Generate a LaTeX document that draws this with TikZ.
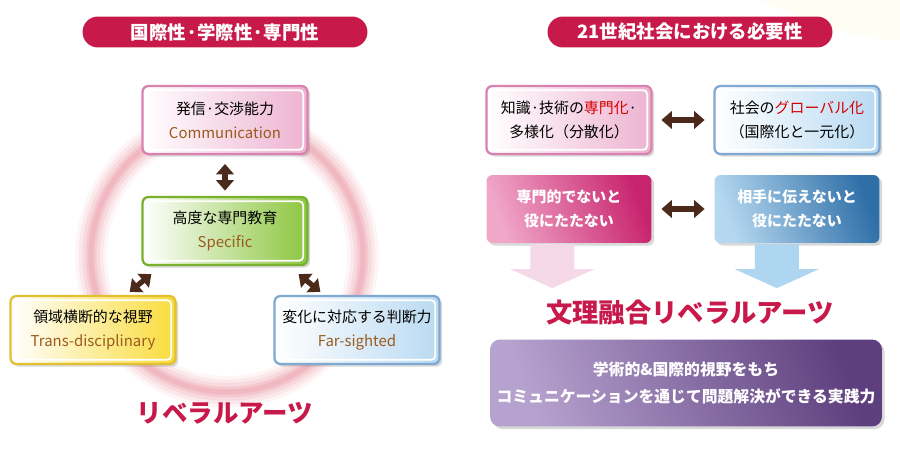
\documentclass[tikz,border=0pt]{standalone}
\usepackage{fontspec}
\setmainfont{Noto Sans CJK JP}
\usetikzlibrary{arrows.meta,shadows,calc}
\definecolor{crimson}{HTML}{C8194B}
\definecolor{engbrown}{HTML}{9A5B1E}
\definecolor{arrowbrown}{HTML}{4B2A1C}
\definecolor{ringpink}{HTML}{EE9DAB}
\definecolor{pinkR}{HTML}{EDB3D1}\definecolor{pinkB}{HTML}{D982AF}
\definecolor{greenR}{HTML}{8CC63F}\definecolor{greenB}{HTML}{79B12F}
\definecolor{yellowR}{HTML}{F9DC3C}\definecolor{yellowB}{HTML}{E2C032}
\definecolor{blueR}{HTML}{B9DAF2}\definecolor{blueB}{HTML}{7FA9D0}
\definecolor{magL}{HTML}{F0A7C8}\definecolor{magR}{HTML}{C8246E}
\definecolor{dblueL}{HTML}{B5D8F0}\definecolor{dblueR}{HTML}{2F6FA8}
\definecolor{purL}{HTML}{B6A2CF}\definecolor{purR}{HTML}{5E3F7E}
\definecolor{arrowpink}{HTML}{F6D9E8}
\definecolor{arrowblue}{HTML}{AED6F1}
\newcommand{\eng}[1]{{\color{engbrown}#1}}
\newcommand{\red}[1]{{\color{red!85!black}#1}}
\begin{document}
\begin{tikzpicture}[x=0.02cm,y=-0.02cm,
  pill/.style={fill=crimson,rounded corners=0.31cm,minimum width=5.7cm,minimum height=0.62cm,
    text=white,font=\bfseries\fontsize{10.5}{12}\selectfont},
  box/.style={rounded corners=0.12cm,minimum width=3.3cm,minimum height=1.36cm,align=center,
    line width=1.3pt,drop shadow={opacity=0.3,shadow xshift=1.5pt,shadow yshift=-1.5pt},
    font=\fontsize{8.5}{13.5}\selectfont},
  pinkbox/.style={box,draw=pinkB,left color=white,right color=pinkR},
  greenbox/.style={box,draw=greenB,left color=white,right color=greenR},
  yellowbox/.style={box,draw=yellowB,left color=white,right color=yellowR},
  bluebox/.style={box,draw=blueB,left color=white,right color=blueR},
  dbl/.style={draw=arrowbrown,line width=3pt,{Triangle[width=10pt,length=6pt]}-{Triangle[width=10pt,length=6pt]}},
  bigtitle/.style={text=crimson,font=\bfseries\fontsize{15}{18}\selectfont}]
\useasboundingbox[fill=white] (0,0) rectangle (900,450);
\fill[yellow!6,opacity=0.7] (760,0) .. controls (820,30) and (870,40) .. (900,40) -- (900,0) -- cycle;
% left half
\node[pill] (hl) at (225,32) {国際性·学際性·専門性};
\coordinate (ring) at (227,256);
\foreach \w/\o in {18/0.1,14/0.14,10/0.2,6/0.28,3/0.35}
  \draw[ringpink,line width=\w pt,opacity=\o] (ring) circle (2.72cm);
\node[pinkbox] (com) at (225,120) {発信·交渉能力\\\eng{Communication}};
\node[greenbox] (spec) at (225,231) {高度な専門教育\\\eng{Specific}};
\node[yellowbox] (trans) at (93,330) {領域横断的な視野\\\eng{Trans-disciplinary}};
\node[bluebox] (far) at (357,330) {変化に対応する判断力\\\eng{Far-sighted}};
\draw[dbl,shorten <=5pt,shorten >=3pt] (com) -- (spec);
\draw[dbl] ([shift={(10,8)}]spec.south west) -- ([shift={(-47,-3)}]trans.north east);
\draw[dbl] ([shift={(-10,8)}]spec.south east) -- ([shift={(47,-3)}]far.north west);
\node[bigtitle,font=\bfseries\fontsize{14.5}{18}\selectfont] (la) at (225,413) {リベラルアーツ};
% right half
\node[pill] (hr) at (690,32) {21世紀社会における必要性};
\node[pinkbox] (need1) at (569,120) {知識·技術の\red{専門化}·\\多様化（分散化）};
\node[bluebox] (need2) at (797,120) {社会の\red{グローバル化}\\（国際化と一元化）};
\node[box,draw=none,left color=magL,right color=magR,shading angle=110,text=white,font=\bfseries\fontsize{8.5}{13.5}\selectfont]
  (why1) at (569,209) {専門的でないと\\役にたたない};
\node[box,draw=none,left color=dblueL,right color=dblueR,shading angle=110,text=white,font=\bfseries\fontsize{8.5}{13.5}\selectfont]
  (why2) at (797,209) {相手に伝えないと\\役にたたない};
\draw[dbl,shorten <=5pt,shorten >=5pt] (need1) -- (need2);
\draw[dbl,shorten <=5pt,shorten >=5pt] (why1) -- (why2);
\foreach \n in {com,spec,trans,far,need1,need2}
  \draw[white,line width=1pt,rounded corners=0.09cm] ([shift={(3pt,3pt)}]\n.south west) rectangle ([shift={(-3pt,-3pt)}]\n.north east);
\fill[arrowpink] ([xshift=-22]why1.south) -- ++(0,25) -- ++(-20,0) -- ++(42,19) -- ++(42,-19) -- ++(-20,0) -- ++(0,-25) -- cycle;
\fill[arrowblue] ([xshift=-24]why2.south) -- ++(0,25) -- ++(-20,0) -- ++(42,19) -- ++(42,-19) -- ++(-20,0) -- ++(0,-25) -- cycle;
\node[bigtitle] (lar) at (690,313) {文理融合リベラルアーツ};
\node[rounded corners=0.2cm,minimum width=7.84cm,minimum height=1.74cm,align=center,
  left color=purL,right color=purR,shading angle=110,text=white,
  drop shadow={opacity=0.3,shadow xshift=1.5pt,shadow yshift=-1.5pt},
  font=\bfseries\fontsize{9}{15}\selectfont] (goal) at (686,383)
  {学術的\&国際的視野をもち\\コミュニケーションを通じて問題解決ができる実践力};
\end{tikzpicture}
\end{document}
